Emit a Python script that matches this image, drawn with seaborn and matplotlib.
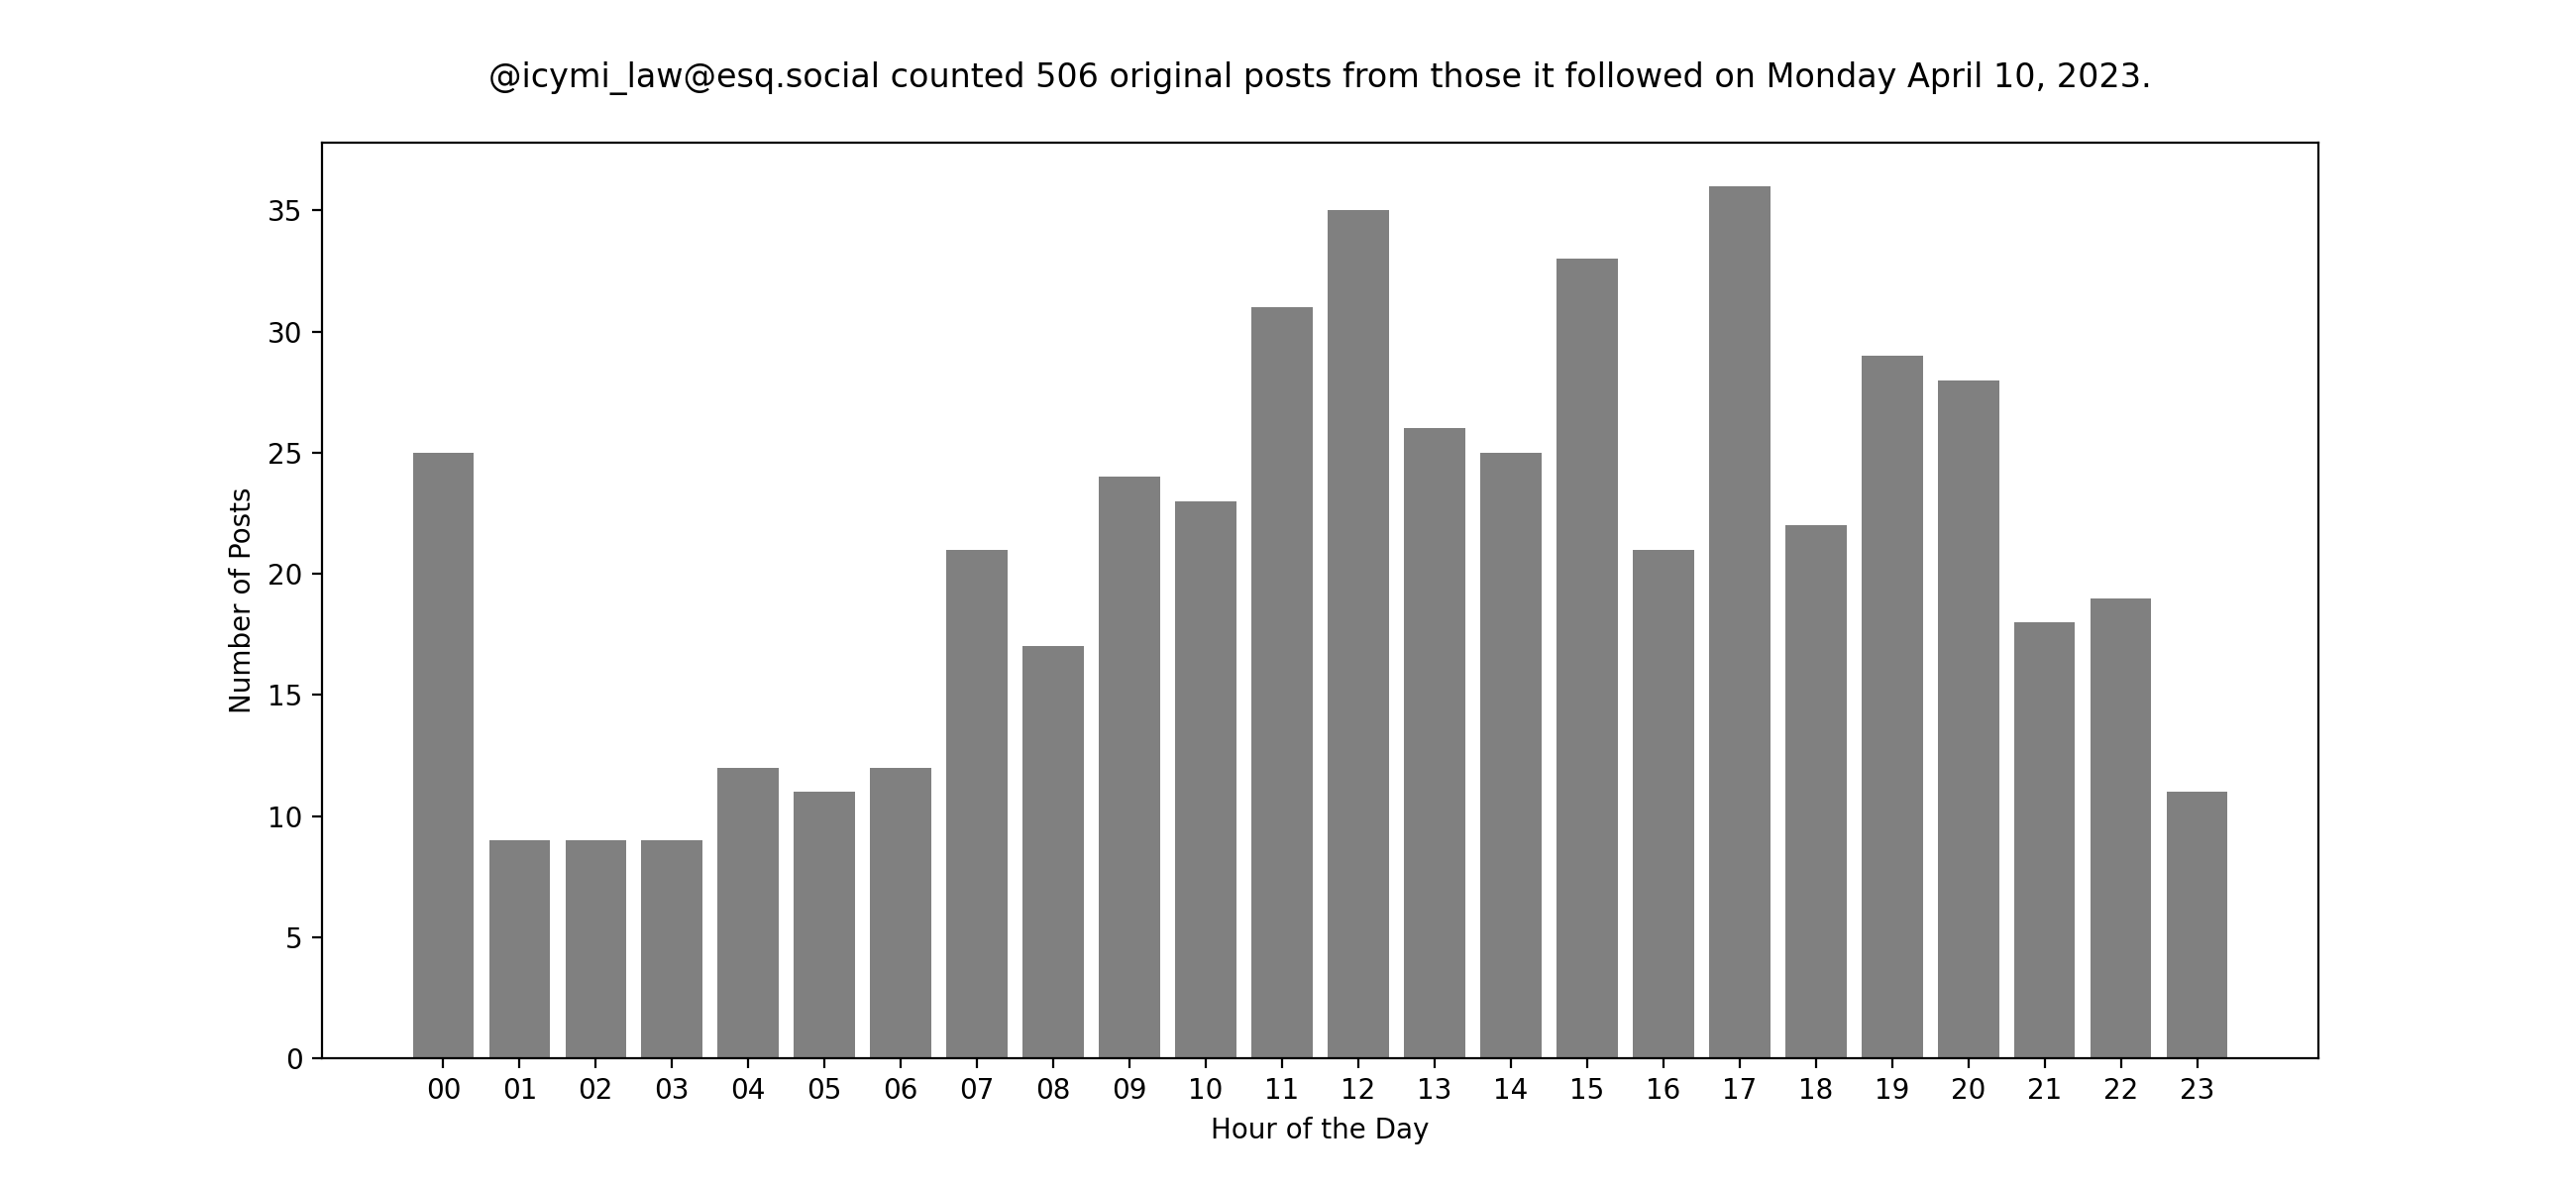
import matplotlib
matplotlib.use("Agg")
import matplotlib.pyplot as plt
import seaborn as sns
import pandas as pd

hours = ["00", "01", "02", "03", "04", "05", "06", "07", "08", "09", "10", "11",
         "12", "13", "14", "15", "16", "17", "18", "19", "20", "21", "22", "23"]
posts = [25, 9, 9, 9, 12, 11, 12, 21, 17, 24, 23, 31,
         35, 26, 25, 33, 21, 36, 22, 29, 28, 18, 19, 11]
title = "@icymi_law@esq.social counted 506 original posts from those it followed on Monday April 10, 2023."

df = pd.DataFrame({"hour": hours, "posts": posts})

plt.rcParams['font.family'] = ['DejaVu Sans']
fig, ax = plt.subplots(figsize=(13, 6), dpi=200)
sns.barplot(data=df, x="hour", y="posts", color="gray", saturation=1, width=0.8, ax=ax)
n = len(hours)
span = (n - 1) + 0.8
ax.set_xlim(-0.4 - 0.05 * span, (n - 1) + 0.4 + 0.05 * span)
ax.set_ylim(0, max(posts) * 1.05)
ax.set_xlabel("Hour of the Day")
ax.set_ylabel("Number of Posts")
ax.set_title(title, fontsize=12, pad=20)
fig.savefig("out.png", dpi=200)
